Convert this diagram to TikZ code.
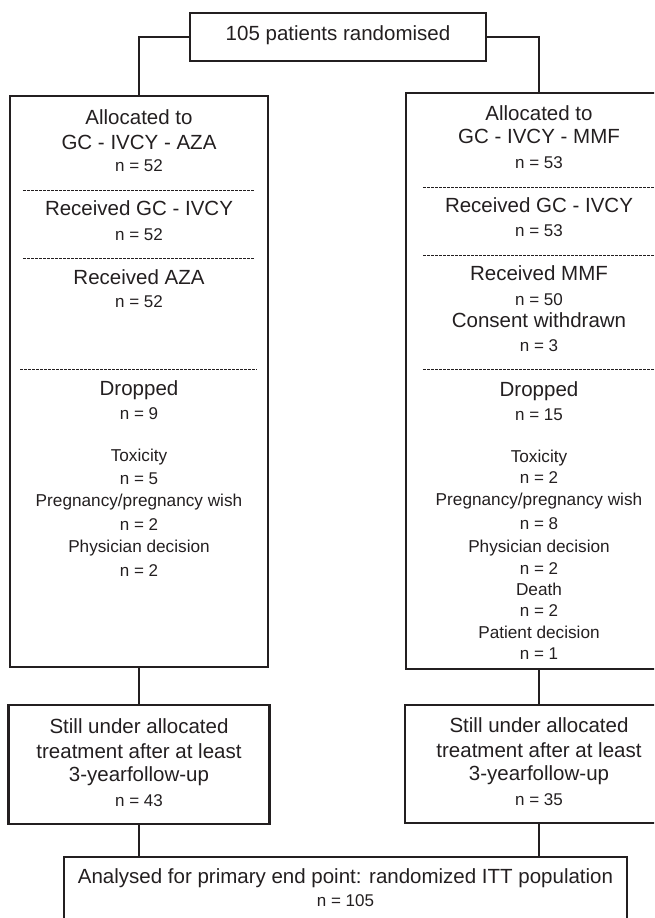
\documentclass[tikz,border=0pt]{standalone}
\usepackage{fontspec}
\setmainfont{Liberation Sans}
\usetikzlibrary{positioning,calc}
\definecolor{ink}{HTML}{231F20}
\tikzset{
  box/.style={draw=ink, line width=1.3pt, rectangle, inner sep=0pt},
  heavybox/.style={box, line width=2.1pt},
  link/.style={draw=ink, line width=1.7pt},
  sep/.style={draw=ink, line width=0.8pt, dash pattern=on 2.6pt off 1.4pt},
  txt/.style={text=ink, inner sep=0pt, text height=0.9em, text depth=0.18em},
  head/.style={txt, font=\fontsize{20.5}{24}\selectfont},
  cnt/.style={txt, font=\fontsize{17}{20}\selectfont},
  why/.style={txt, font=\fontsize{17.2}{20}\selectfont}
}

\begin{document}
\begin{tikzpicture}[x=1pt, y=-1pt]
  \useasboundingbox (0,0) rectangle (654,918);
  \clip (0,0) rectangle (654,918);

  % boxes
  \node[box, head, minimum width=296pt, minimum height=48pt] (rand) at (338,37) {105 patients randomised};
  \node[box, minimum width=258pt, minimum height=571pt] (armA) at (139,381.5) {};
  \node[box, minimum width=266pt, minimum height=576pt] (armB) at (539,381) {};
  \node[heavybox, minimum width=261pt, minimum height=119pt] (stillA) at (139,764.5) {};
  \node[heavybox, minimum width=268pt, minimum height=118pt] (stillB) at (539,764) {};
  \node[box, minimum width=563pt, minimum height=100pt] (itt) at (345.5,907) {};

  % connectors
  \draw[link] (rand.west) -| (armA.north);
  \draw[link] (rand.east) -| (armB.north);
  \draw[link] (armA.south) -- (armA.south |- stillA.north);
  \draw[link] (armB.south) -- (armB.south |- stillB.north);
  \draw[link] (stillA.south) -- (stillA.south |- itt.north);
  \draw[link] (stillB.south) -- (stillB.south |- itt.north);

  % AZA arm
  \node[head] (aAlloc) at (139,121) {Allocated to};
  \node[head] (aArm) at (139,146) {GC - IVCY - AZA};
  \node[cnt] (aAllocN) at (139,168) {n = 52};
  \draw[sep] (23,190) -- (254,190);
  \node[head] (aInd) at (139,212) {Received GC - IVCY};
  \node[cnt] (aIndN) at (139,237) {n = 52};
  \draw[sep] (23,258) -- (254,258);
  \node[head] (aMaint) at (139,281) {Received AZA};
  \node[cnt] (aMaintN) at (139,304) {n = 52};
  \draw[sep] (20,369) -- (257,369);
  \node[head] (aDrop) at (139,392) {Dropped};
  \node[cnt] (aDropN) at (139,416) {n = 9};
  \node[why] (aTox) at (139,458) {Toxicity};
  \node[cnt] (aToxN) at (139,481) {n = 5};
  \node[why] (aPreg) at (139,503) {Pregnancy/pregnancy wish};
  \node[cnt] (aPregN) at (139,527) {n = 2};
  \node[why] (aPhys) at (139,549) {Physician decision};
  \node[cnt] (aPhysN) at (139,573) {n = 2};

  % MMF arm
  \node[head] (bAlloc) at (539,117) {Allocated to};
  \node[head] (bArm) at (539,140) {GC - IVCY - MMF};
  \node[cnt] (bAllocN) at (539,165) {n = 53};
  \draw[sep] (423,187) -- (655,187);
  \node[head] (bInd) at (539,209) {Received GC - IVCY};
  \node[cnt] (bIndN) at (539,233) {n = 53};
  \draw[sep] (423,255) -- (655,255);
  \node[head] (bMaint) at (539,277) {Received MMF};
  \node[cnt] (bMaintN) at (539,302) {n = 50};
  \node[head] (bCons) at (539,324) {Consent withdrawn};
  \node[cnt] (bConsN) at (539,348) {n = 3};
  \draw[sep] (423,369) -- (655,369);
  \node[head] (bDrop) at (539,393) {Dropped};
  \node[cnt] (bDropN) at (539,417) {n = 15};
  \node[why] (bTox) at (539,459) {Toxicity};
  \node[cnt] (bToxN) at (539,480) {n = 2};
  \node[why] (bPreg) at (539,502) {Pregnancy/pregnancy wish};
  \node[cnt] (bPregN) at (539,526) {n = 8};
  \node[why] (bPhys) at (539,549) {Physician decision};
  \node[cnt] (bPhysN) at (539,571) {n = 2};
  \node[why] (bDeath) at (539,592) {Death};
  \node[cnt] (bDeathN) at (539,613) {n = 2};
  \node[why] (bPat) at (539,635) {Patient decision};
  \node[cnt] (bPatN) at (539,656) {n = 1};

  % still on treatment
  \node[head] (aStill1) at (139,730) {Still under allocated};
  \node[head] (aStill2) at (139,755) {treatment after at least};
  \node[head] (aStill3) at (139,778) {3-yearfollow-up};
  \node[cnt] (aStillN) at (139,803) {n = 43};
  \node[head] (bStill1) at (539,729) {Still under allocated};
  \node[head] (bStill2) at (539,754) {treatment after at least};
  \node[head] (bStill3) at (539,777) {3-yearfollow-up};
  \node[cnt] (bStillN) at (539,802) {n = 35};

  % analysis
  \node[head] (ittText) at (345.5,880) {Analysed for primary end point: randomized ITT population};
  \node[cnt] (ittN) at (345.5,903) {n = 105};
\end{tikzpicture}
\end{document}
